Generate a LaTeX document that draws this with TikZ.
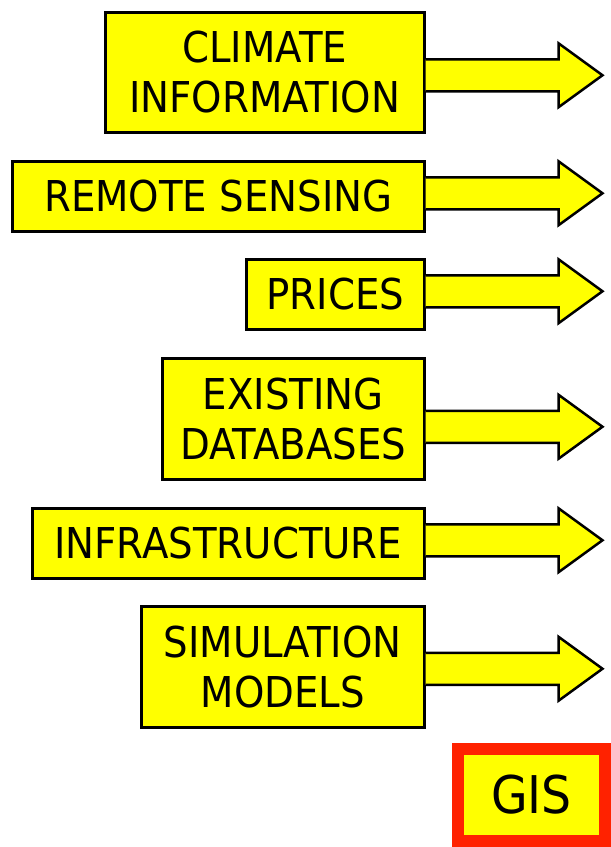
\documentclass[tikz,border=0pt]{standalone}
\usepackage{fontspec}
\setmainfont{DejaVu Sans}[FakeStretch=0.91]
\usepackage{tikz}
\usetikzlibrary{positioning, calc}

\definecolor{boxyellow}{RGB}{255,255,0}
\definecolor{gisred}{RGB}{255,34,0}

\begin{document}
\begin{tikzpicture}[
  x=1pt, y=-1pt,
  source/.style={draw=black, line width=2.5pt, fill=boxyellow, anchor=north west,
    inner sep=0pt, align=center, font=\fontsize{42.5}{50}\selectfont},
  blockarrow/.style={draw=black, line width=2.5pt, fill=boxyellow, line join=miter}
]
  \useasboundingbox (0,0) rectangle (611,847);

  % data sources
  \node[source, minimum width=319pt, minimum height=120pt] (climate) at (104,11)
    {CLIMATE\\INFORMATION};
  \node[source, minimum width=412pt, minimum height=70pt] (remote) at (11,160)
    {REMOTE SENSING};
  \node[source, minimum width=178pt, minimum height=70pt] (prices) at (245,258)
    {PRICES};
  \node[source, minimum width=262pt, minimum height=121pt] (existing) at (161,357)
    {EXISTING\\DATABASES};
  \node[source, minimum width=392pt, minimum height=70pt] (infra) at (31,507)
    {INFRASTRUCTURE};
  \node[source, minimum width=283pt, minimum height=121pt] (simul) at (140,605)
    {SIMULATION\\MODELS};

  % block arrows out of each source
  \foreach \src/\dy in {climate/3, remote/-3, prices/-3, existing/8, infra/-3, simul/2} {
    \filldraw[blockarrow] ($(\src.east)+(0,\dy-16)$) -- ++(133,0) -- ++(0,-16)
      -- ++(44,32) -- ++(-44,32) -- ++(0,-16) -- ++(-133,0);
  }

  % target
  \node[draw=gisred, line width=12pt, fill=boxyellow, minimum width=147pt,
    minimum height=92pt, inner sep=0pt, font=\fontsize{52}{60}\selectfont]
    (gis) at (531.5,795) {GIS};
\end{tikzpicture}
\end{document}
